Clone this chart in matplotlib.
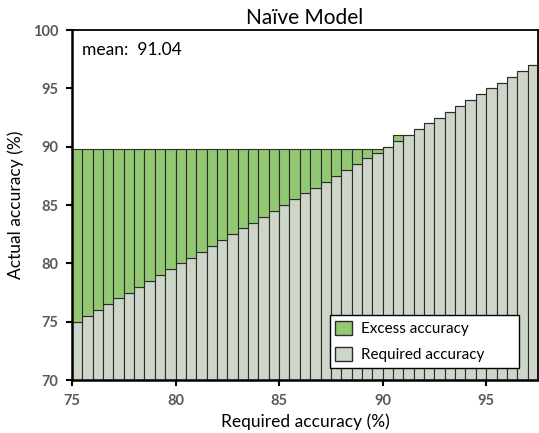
import matplotlib
matplotlib.use("Agg")
import matplotlib.pyplot as plt
from matplotlib.patches import Patch

plt.rcParams["font.family"] = ["Lato", "DejaVu Sans"]

# required accuracy bins (left edge of each bar), %
REQUIRED = [75.0, 75.5, 76.0, 76.5, 77.0, 77.5, 78.0, 78.5, 79.0, 79.5,
            80.0, 80.5, 81.0, 81.5, 82.0, 82.5, 83.0, 83.5, 84.0, 84.5,
            85.0, 85.5, 86.0, 86.5, 87.0, 87.5, 88.0, 88.5, 89.0, 89.5,
            90.0, 90.5, 91.0, 91.5, 92.0, 92.5, 93.0, 93.5, 94.0, 94.5,
            95.0, 95.5, 96.0, 96.5, 97.0]
# actual accuracy reached by the naive model in each bin, %
ACTUAL = [89.8] * 30 + [90.0, 91.04] + [91.0, 91.5, 92.0, 92.5, 93.0, 93.5,
                                       94.0, 94.5, 95.0, 95.5, 96.0, 96.5, 97.0]
MEAN = 91.04

GREEN = "#93c873"
GRAY = "#cdd6c8"
EDGE = "#2b2b2b"
TICKC = "#595959"

base = [70.0] * len(REQUIRED)
req_h = [r - b for r, b in zip(REQUIRED, base)]
excess = [max(a - r, 0.0) for a, r in zip(ACTUAL, REQUIRED)]

fig = plt.figure(figsize=(5.39, 4.33), dpi=100)
ax = fig.add_axes([0.1336, 0.1224, 0.8645, 0.8083])

ax.bar(REQUIRED, req_h, width=0.5, bottom=base, align="edge",
       color=GRAY, edgecolor=EDGE, linewidth=0.8)
ax.bar(REQUIRED, excess, width=0.5, bottom=REQUIRED, align="edge",
       color=GREEN, edgecolor=EDGE, linewidth=0.8)

ax.set_xlim(75, 97.5)
ax.set_ylim(70, 100)
ax.set_xticks([75, 80, 85, 90, 95])
ax.set_yticks([70, 75, 80, 85, 90, 95, 100])
ax.tick_params(direction="out", length=4, width=1.5, colors="black",
               labelcolor=TICKC, labelsize=10.5, pad=6)
for lab in ax.get_xticklabels() + ax.get_yticklabels():
    lab.set_fontweight("bold")

for side in ["left", "bottom"]:
    ax.spines[side].set_linewidth(1.8)
for side in ["top", "right"]:
    ax.spines[side].set_linewidth(1.3)

ax.set_title("Naïve Model", fontsize=15, pad=4)
ax.set_xlabel("Required accuracy (%)", fontsize=12.5, labelpad=4)
ax.set_ylabel("Actual accuracy (%)", fontsize=12.5, labelpad=6)

ax.text(0.021, 0.943, f"mean:  {MEAN:.2f}", transform=ax.transAxes,
        ha="left", va="center", fontsize=12.5)

handles = [Patch(facecolor=GREEN, edgecolor=EDGE, label="Excess accuracy"),
           Patch(facecolor=GRAY, edgecolor=EDGE, label="Required accuracy")]
leg = ax.legend(handles=handles, loc="lower left",
                bbox_to_anchor=(0.5536, 0.035, 0.4056, 0.154), mode="expand",
                fontsize=11, frameon=True, fancybox=False, framealpha=1,
                edgecolor="black", handlelength=1.05, handleheight=1.05,
                labelspacing=0.72, borderpad=0.36, handletextpad=0.6,
                borderaxespad=0)
leg.get_frame().set_linewidth(1.0)

fig.savefig("out.png", dpi=100)
